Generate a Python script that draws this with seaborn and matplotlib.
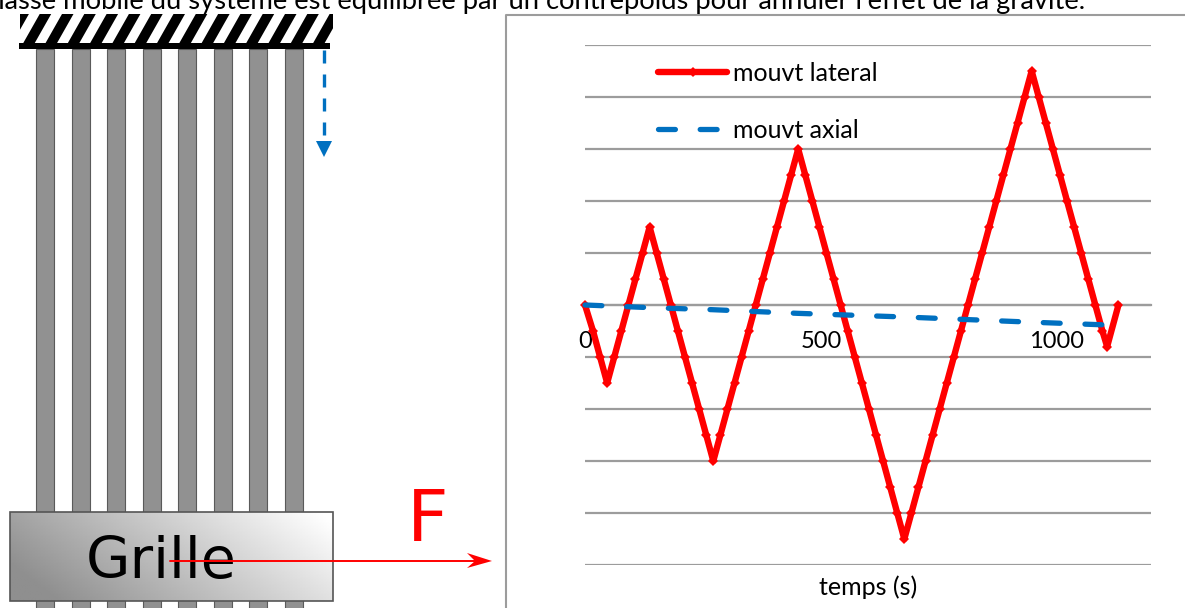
import numpy as np
import pandas as pd
import matplotlib
matplotlib.use("Agg")
import matplotlib.pyplot as plt
from matplotlib.patches import Rectangle, Polygon
import seaborn as sns

# values
temps_lateral = [0, 17, 32, 47, 62, 77, 92, 107, 122, 137, 152, 167, 182, 197, 212, 227, 242, 257, 272,
                 287, 302, 317, 332, 347, 362, 377, 392, 407, 422, 437, 452,
                 467, 482, 497, 512, 527, 542, 557, 572, 587, 602, 617, 632, 647, 662, 677,
                 692, 707, 722, 737, 752, 767, 782, 797, 812, 827, 842, 857, 872, 887, 902, 917, 932, 947,
                 962, 977, 992, 1007, 1022, 1037, 1052, 1067, 1082, 1097, 1107, 1131]
mouvt_lateral = [0, -0.5, -1, -1.5, -1, -0.5, 0, 0.5, 1, 1.5, 1, 0.5, 0, -0.5, -1, -1.5, -2, -2.5, -3,
                 -2.5, -2, -1.5, -1, -0.5, 0, 0.5, 1, 1.5, 2, 2.5, 3,
                 2.5, 2, 1.5, 1, 0.5, 0, -0.5, -1, -1.5, -2, -2.5, -3, -3.5, -4, -4.5,
                 -4, -3.5, -3, -2.5, -2, -1.5, -1, -0.5, 0, 0.5, 1, 1.5, 2, 2.5, 3, 3.5, 4, 4.5,
                 4, 3.5, 3, 2.5, 2, 1.5, 1, 0.5, 0, -0.5, -0.8, 0]
temps_axial = [0, 135, 270, 450, 675, 945, 1110]
mouvt_axial = [0, -0.05, -0.09, -0.16, -0.23, -0.33, -0.385]
xticks = [0, 500, 1000]
yticks = [-5, -4, -3, -2, -1, 0, 1, 2, 3, 4, 5]

W, H = 1185, 608
ROUGE = "#FF0000"
BLEU = "#0070C0"
GRIS = "#9C9C9C"

sns.set_theme(style="white")
plt.rcParams["font.family"] = ["Lato", "DejaVu Sans"]

fig = plt.figure(figsize=(W / 100, H / 100), dpi=100)

# overlay in pixel coordinates for the drawing on the left
bg = fig.add_axes([0, 0, 1, 1])
bg.set_xlim(0, W)
bg.set_ylim(H, 0)
bg.axis("off")

bg.text(-18, 9, "masse mobile du système est équilibrée par un contrepoids pour annuler l'effet de la gravité.",
        fontsize=19.72, color="black", va="baseline", ha="left")

# rods
for x0 in [36, 72, 107, 143, 178, 214, 249, 285]:
    bg.add_patch(Rectangle((x0, 49), 18, 560, fc="#919191", ec="#5a5a5a", lw=0.8))

# hatched support
clip = Rectangle((20, 14), 313, 30, transform=bg.transData)
for x0 in np.arange(0.4, 360, 22.3):
    stripe = Polygon([[x0, 44], [x0 + 11.5, 44], [x0 + 28.5, 14], [x0 + 17, 14]], fc="black", ec="none")
    bg.add_patch(stripe)
    stripe.set_clip_path(clip)
bg.add_patch(Rectangle((19, 43), 311, 6, fc="black", ec="none"))

# blue displacement arrow
bg.plot([324, 324], [50, 136], color=BLEU, lw=2.4, linestyle=(0, (3.9, 3.3)))
bg.add_patch(Polygon([[316, 141], [332, 141], [324, 157]], fc=BLEU, ec="none"))

# frame of the chart
bg.plot([506, 506, W + 2], [H + 2, 15, 15], color=GRIS, lw=1.5)

# grille block with gradient
gx = np.linspace(0, 1, 200)
gy = np.linspace(1, 0, 60)
grad = np.clip(gx[None, :] * 0.85 + gy[:, None] * 0.3 - 0.12, 0, 1)
bg.imshow(grad, extent=(10, 333, 601, 512), cmap="gray", vmin=-1.27, vmax=1.0,
          aspect="auto", zorder=3, interpolation="bilinear")
bg.set_xlim(0, W)
bg.set_ylim(H, 0)
bg.add_patch(Rectangle((10, 512), 323, 89, fc="none", ec="#555555", lw=1.2, zorder=4))
bg.text(161, 578, "Grille", fontsize=41.2, family="DejaVu Sans", color="black",
        ha="center", va="baseline", zorder=5)

# force arrow
bg.plot([170, 480], [561, 561], color=ROUGE, lw=1.4, zorder=6)
bg.add_patch(Polygon([[492, 561], [467, 553], [475, 561], [467, 568]], fc=ROUGE, ec="none", zorder=6))
bg.text(428, 541, "F", fontsize=52, family="DejaVu Sans", color=ROUGE, ha="center", va="baseline", zorder=6)

# chart
ax = fig.add_axes([585 / W, 1 - 565 / H, (1151 - 585) / W, (565 - 45) / H])
ax.patch.set_alpha(0)

df_lateral = pd.DataFrame({"temps": temps_lateral, "valeur": mouvt_lateral})
df_axial = pd.DataFrame({"temps": temps_axial, "valeur": mouvt_axial})

sns.lineplot(data=df_lateral, x="temps", y="valeur", ax=ax, color=ROUGE, lw=4.6, marker="D", ms=4.6,
             mew=0, estimator=None, sort=False, clip_on=False, zorder=4, label="mouvt lateral",
             solid_capstyle="round")
sns.lineplot(data=df_axial, x="temps", y="valeur", ax=ax, color=BLEU, lw=3.8, estimator=None, sort=False,
             clip_on=False, zorder=5, label="mouvt axial", dash_capstyle="round",
             linestyle=(0, (3.2, 4.7)))

ax.set_xlim(0, 1200)
ax.set_ylim(-5, 5)
ax.set_xticks(xticks)
ax.set_yticks(yticks)
ax.set_yticklabels([])
ax.grid(axis="y", color=GRIS, lw=1.6)
ax.set_axisbelow(True)
for s in ["top", "left", "right"]:
    ax.spines[s].set_visible(False)
ax.spines["bottom"].set_position(("data", 0))
ax.spines["bottom"].set_color(GRIS)
ax.spines["bottom"].set_linewidth(1.6)
ax.tick_params(axis="x", direction="out", length=6, width=1.2, color=GRIS, labelsize=17, pad=12.6, labelcolor="black")
ax.tick_params(axis="y", length=0)
ax.set_xlabel("temps (s)", fontsize=18, color="black")
ax.xaxis.label.set_va("center")
ax.xaxis.set_label_coords(0.5, -22 / 520)
ax.set_ylabel("")

leg = ax.legend(loc="upper left", bbox_to_anchor=((643 - 585) / 566, 1 - 2 / 520), frameon=False, fontsize=18,
                handlelength=2.76, handletextpad=0.24, labelspacing=1.345, borderpad=0.6, borderaxespad=0,
                labelcolor="black")

fig.savefig("out.png", dpi=100)
